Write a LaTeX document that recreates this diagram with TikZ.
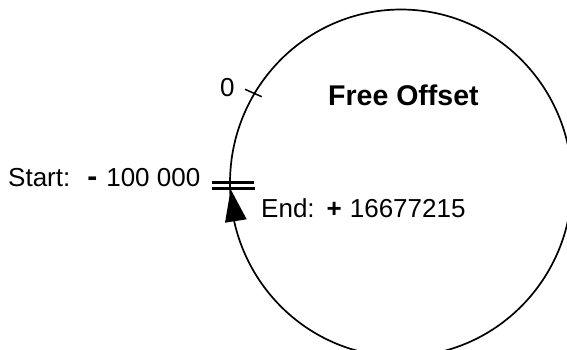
\documentclass[tikz,border=0pt]{standalone}
\usepackage{fontspec}
\setmainfont{Liberation Sans}
\begin{document}
\begin{tikzpicture}[x=1pt,y=-1pt,
  lbl/.style={inner sep=0pt, anchor=base west, font=\fontsize{26}{31}\selectfont},
  ttl/.style={inner sep=0pt, anchor=base west, font=\fontsize{28.5}{34}\bfseries\selectfont},
  ring/.style={line width=1.7pt},
  bar/.style={line width=2.6pt},
  tickmark/.style={line width=1.5pt}]
\useasboundingbox (0,0) rectangle (567,349);
% circle
\draw[ring] (401,183) ellipse [x radius=171, y radius=173.5];
% tick at 0
\coordinate (t1) at (245,89.3);
\coordinate (t2) at (261.7,96.7);
\draw[tickmark] (t1) -- (t2);
% double bar
\coordinate (b1) at (211.7,182.5);
\coordinate (b2) at (254,182.5);
\coordinate (b3) at (211.7,188.2);
\coordinate (b4) at (255,188.2);
\draw[bar] (b1) -- (b2);
\draw[bar] (b3) -- (b4);
% arrowhead
\coordinate (a1) at (230.7,189.3);
\coordinate (a2) at (225,222.7);
\coordinate (a3) at (246.7,219.3);
\fill (a1) -- (a2) -- (a3) -- cycle;
% texts
\node[lbl] (zero) at (220,96.5) {0};
\node[ttl] (title) at (328,105) {Free Offset};
\node[lbl] (start) at (8,186.5) {Start:\hspace*{17pt}{\fontsize{30}{31}\bfseries -}\hspace*{9pt}100 000};
\node[lbl] (end) at (261,217) {End:\hspace*{12pt}\textbf{+}\hspace*{8pt}16677215};
\end{tikzpicture}
\end{document}
